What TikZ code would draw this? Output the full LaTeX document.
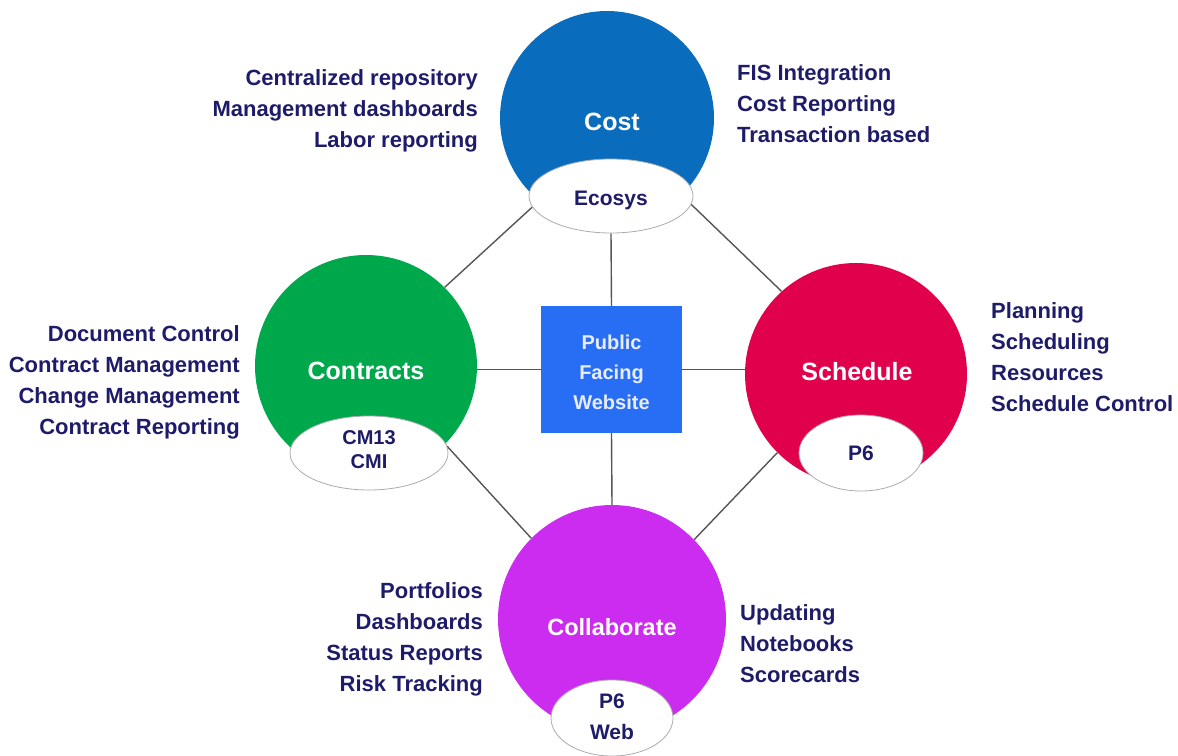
\documentclass[tikz,border=0pt]{standalone}
\usepackage{fontspec}
\setmainfont{Liberation Sans}
\usetikzlibrary{shapes.geometric,backgrounds}
\definecolor{navy}{RGB}{30,28,105}
\definecolor{costblue}{RGB}{10,108,188}
\definecolor{contractgreen}{RGB}{0,168,76}
\definecolor{schedred}{RGB}{225,0,75}
\definecolor{collabpurple}{RGB}{204,44,240}
\definecolor{boxblue}{RGB}{40,110,245}
\definecolor{boxtext}{RGB}{232,236,255}
\definecolor{linkgray}{RGB}{85,85,85}
\tikzset{
  bubble/.style={circle, inner sep=0pt, draw=none},
  tool/.style={ellipse, fill=white, draw=gray!65, line width=0.8pt, inner sep=0pt, text=navy, align=center},
  listtext/.style={text=navy, inner sep=0pt, font=\bfseries\fontsize{22}{31}\selectfont},
  titletext/.style={text=white, font=\bfseries\fontsize{25}{30}\selectfont},
  link/.style={draw=linkgray, line width=1.4pt},
}
\begin{document}
\begin{tikzpicture}[x=1pt,y=-1pt]
\useasboundingbox (0,0) rectangle (1178,755);
\clip (0,0) rectangle (1178,755);
% circles
\node[bubble, fill=costblue, minimum size=214pt] (cost) at (607,118) {};
\node[bubble, fill=contractgreen, minimum size=222pt] (contracts) at (366,366) {};
\node[bubble, fill=schedred, minimum size=222pt] (schedule) at (856,374) {};
\node[bubble, fill=collabpurple, minimum size=228pt] (collab) at (612,619) {};
% titles
\node[titletext] (costtitle) at (612,122) {Cost};
\node[titletext] (contractstitle) at (366,371) {Contracts};
\node[titletext] (scheduletitle) at (857,372) {Schedule};
\node[titletext, font=\bfseries\fontsize{23.5}{28}\selectfont] (collabtitle) at (612,627) {Collaborate};
% tool ellipses
\node[tool, minimum width=164pt, minimum height=74pt] (ecosys) at (611,196) {};
\node[text=navy, font=\bfseries\fontsize{21}{25}\selectfont] (ecosystext) at (611,200) {Ecosys};
\node[tool, minimum width=158pt, minimum height=74pt] (cmi) at (369,453) {};
\node[text=navy, align=center, font=\bfseries\fontsize{20}{24}\selectfont] (cmitext) at (369,450) {CM13\\CMI};
\node[tool, minimum width=124pt, minimum height=76pt] (psix) at (861,453) {};
\node[text=navy, font=\bfseries\fontsize{21}{25}\selectfont] (psixtext) at (861,453) {P6};
\node[tool, minimum width=122pt, minimum height=76pt] (psixweb) at (612,718) {};
\node[text=navy, align=center, font=\bfseries\fontsize{21}{31}\selectfont] (psixwebtext) at (612,717) {P6\\Web};
% central box
\node[fill=boxblue, minimum width=141pt, minimum height=127pt, inner sep=0pt] (box) at (611.5,369.5) {};
\node[text=boxtext, align=center, font=\bfseries\fontsize{20}{30}\selectfont] (boxtxt) at (611.5,372) {Public\\Facing\\Website};
% connectors
\begin{scope}[on background layer]
\draw[link] (box.north) -- (ecosys.south);
\draw[link] (box.west) -- (box.west -| contracts.east);
\draw[link] (box.east) -- (box.east -| schedule.west);
\draw[link] (box.south) -- (collab.north);
\draw[link] (ecosys.188) -- (contracts.45);
\draw[link] (ecosys.354) -- (schedule.132);
\draw[link] (cmi.5) -- (collab.135);
\draw[link] (schedule.225) -- (collab.44);
\end{scope}
% lists
\node[listtext, align=right, anchor=east] (costleft) at (478,111) {Centralized repository\\Management dashboards\\Labor reporting};
\node[listtext, align=left, anchor=west] (costright) at (737,104) {FIS Integration\\Cost Reporting\\Transaction based};
\node[listtext, align=right, anchor=east] (contractsleft) at (240,382) {Document Control\\Contract Management\\Change Management\\Contract Reporting};
\node[listtext, align=left, anchor=west] (scheduleright) at (991,357) {Planning\\Scheduling\\Resources\\Schedule Control};
\node[listtext, align=right, anchor=east] (collableft) at (483,639) {Portfolios\\Dashboards\\Status Reports\\Risk Tracking};
\node[listtext, align=left, anchor=west] (collabright) at (740,644) {Updating\\Notebooks\\Scorecards};
\end{tikzpicture}
\end{document}
